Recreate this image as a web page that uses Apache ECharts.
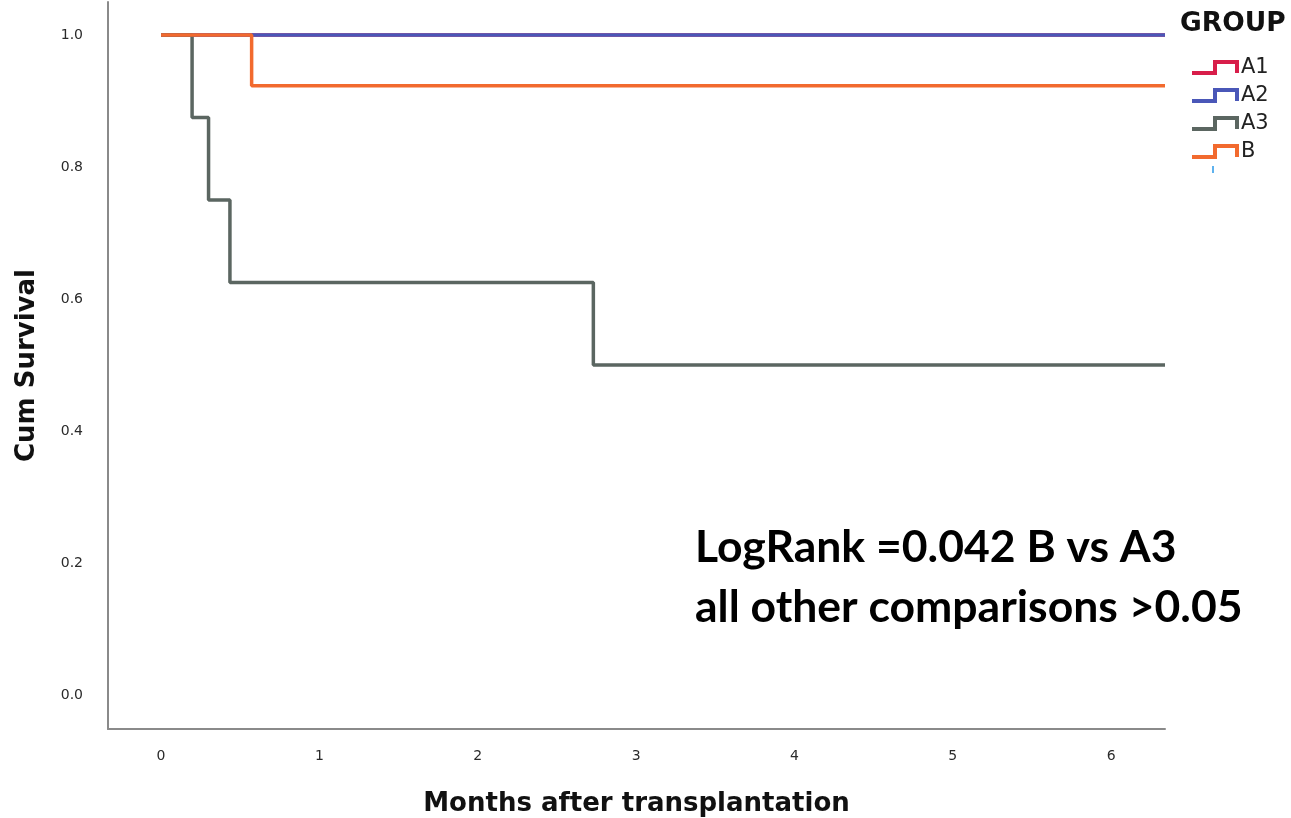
<!DOCTYPE html>
<html>
<head>
<meta charset="utf-8">
<script src="https://cdn.jsdelivr.net/npm/echarts@6/dist/echarts.min.js"></script>
<style>
html,body{margin:0;padding:0;background:#fff;}
#chart{width:1291px;height:818px;}
</style>
</head>
<body>
<div id="chart"></div>
<script>
// Data (months, cumulative survival)
const seriesNames = ['A1', 'A2', 'A3', 'B'];
const A1 = [[0, 1.0], [6.34, 1.0]];
const A2 = [[0, 1.0], [6.34, 1.0]];
const A3 = [[0, 1.0], [0.196, 0.875], [0.30, 0.75], [0.435, 0.625], [2.73, 0.5], [6.34, 0.5]];
const B = [[0, 1.0], [0.572, 0.923], [6.34, 0.923]];
const xTicks = [0, 1, 2, 3, 4, 5, 6];
const yTicks = [0, 0.2, 0.4, 0.6, 0.8, 1.0];
const annotationLines = ['LogRank =0.042 B vs A3', 'all other comparisons >0.05'];

const colors = { A1: '#d81e4a', A2: '#4a57b8', A3: '#5b6661', B: '#f26a2e' };
const stepIcon = 'path://M0,11 L21,11 L21,0 L47,0 L47,13 L43,13 L43,4 L25,4 L25,15 L0,15 Z';

const dataMap = { A1, A2, A3, B };
const chart = echarts.init(document.getElementById('chart'));
chart.setOption({
  animation: false,
  backgroundColor: '#ffffff',
  title: {
    text: 'GROUP', left: 1180, top: 11, padding: 0,
    textStyle: { fontFamily: 'DejaVu Sans', fontWeight: 'bold', fontSize: 26.5, color: '#111' }
  },
  legend: {
    orient: 'vertical', left: 1192, top: 57, padding: 0, itemWidth: 47, itemHeight: 15, itemGap: 7,
    data: seriesNames.map(n => ({ name: n, icon: stepIcon, itemStyle: { borderWidth: 0 } })),
    textStyle: { fontFamily: 'DejaVu Sans', fontSize: 21, color: '#222', padding: [0, 0, 0, -3] }
  },
  grid: { left: 108, right: 126, top: 2, bottom: 89, containLabel: false, outerBoundsMode: 'none' },
  xAxis: {
    type: 'value', min: -0.335, max: 6.34,
    name: 'Months after transplantation', nameLocation: 'middle', nameGap: 62,
    nameTextStyle: { fontFamily: 'DejaVu Sans', fontWeight: 'bold', fontSize: 26, color: '#111' },
    axisLine: { show: true, onZero: false, lineStyle: { color: '#8a8a8a', width: 2 } },
    axisTick: { show: false },
    splitLine: { show: false },
    axisLabel: { customValues: xTicks, formatter: v => String(v), margin: 20, fontFamily: 'DejaVu Sans', fontSize: 14, color: '#2a2a2a' }
  },
  yAxis: {
    type: 'value', min: -0.0515, max: 1.05,
    name: 'Cum Survival', nameLocation: 'middle', nameGap: 68, nameRotate: 90,
    nameTextStyle: { fontFamily: 'DejaVu Sans', fontWeight: 'bold', fontSize: 26, color: '#111' },
    axisLine: { show: true, onZero: false, lineStyle: { color: '#8a8a8a', width: 2 } },
    axisTick: { show: false },
    splitLine: { show: false },
    axisLabel: { customValues: yTicks, formatter: v => v.toFixed(1), margin: 25, fontFamily: 'DejaVu Sans', fontSize: 14, color: '#2a2a2a' }
  },
  graphic: [{
    type: 'text', left: 695, top: 518,
    style: {
      text: annotationLines.join('\n'), fill: '#000',
      font: 'bold 44.5px Lato', lineHeight: 60
    }
  }, {
    type: 'line', shape: { x1: 1213, y1: 166, x2: 1213, y2: 173 },
    style: { stroke: '#5fb2ee', lineWidth: 2 }
  }],
  series: seriesNames.map(n => ({
    name: n, type: 'line', step: 'end', data: dataMap[n], showSymbol: false, symbol: 'none',
    lineStyle: { color: colors[n], width: 3.5 }, itemStyle: { color: colors[n] }
  }))
});
</script>
</body>
</html>
